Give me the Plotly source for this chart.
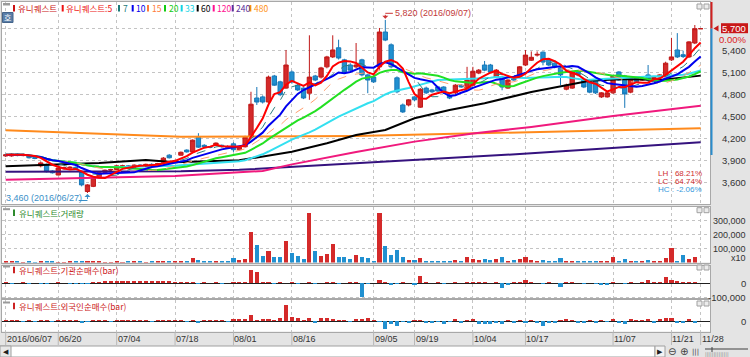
import pandas as pd
import plotly.graph_objects as go

W, H = 750, 357

# ---------------- data ----------------
HOLIDAYS = ["2016-08-15", "2016-09-14", "2016-09-15", "2016-09-16", "2016-10-03"]
dates = [d for d in pd.bdate_range("2016-06-07", "2016-11-28")
         if d.strftime("%Y-%m-%d") not in HOLIDAYS]
day = list(range(len(dates)))

open_p = [3965, 3965, 3990, 3970, 3965, 3945, 3830, 3850, 3760, 3705,
          3790, 3800, 3810, 3740, 3480, 3550, 3670, 3740, 3770, 3780,
          3820, 3830, 3815, 3840, 3835, 3850, 3845, 3880, 3975, 3890,
          3975, 4045, 4020, 4220, 4110, 4090, 4115, 4110, 4090, 4130,
          4050, 4090, 4225, 4755, 4770, 4700, 5055, 4975, 4890, 5110,
          4930, 4890, 4820, 5055, 5040, 5180, 5315, 5440, 5275, 5205,
          5180, 5275, 5070, 5040, 5180, 5655, 5480, 5030, 4660, 4660,
          4770, 4630, 4890, 4865, 4905, 4905, 4795, 4825, 4930, 4890,
          4930, 5095, 5205, 5205, 5040, 5040, 4890, 5040, 5040, 5205,
          5270, 5340, 5380, 5275, 5230, 5165, 4875, 4890, 5110, 5000,
          4975, 5000, 4770, 4770, 4825, 5110, 5055, 4835, 5030, 5000,
          5070, 5020, 5040, 5055, 5275, 5410, 5345, 5315, 5505, 5700]
high_p = [3990, 4000, 4000, 3995, 3975, 3955, 3890, 3860, 3770, 3810,
          3820, 3825, 3820, 3760, 3580, 3680, 3745, 3780, 3790, 3840,
          3845, 3840, 3850, 3850, 3860, 3865, 3870, 3950, 3990, 3915,
          4025, 4055, 4190, 4275, 4125, 4100, 4150, 4120, 4110, 4150,
          4095, 4240, 4840, 4905, 4790, 5060, 5070, 4990, 5410, 5130,
          4950, 4900, 5610, 5070, 5180, 5330, 5610, 5550, 5290, 5230,
          5505, 5290, 5080, 5060, 5710, 5820, 5500, 5050, 4680, 4740,
          4780, 4890, 4910, 4880, 4920, 4915, 4810, 4945, 4945, 5180,
          5180, 5150, 5260, 5220, 5150, 5060, 5010, 5050, 5190, 5410,
          5390, 5390, 5390, 5280, 5240, 5180, 4950, 5120, 5120, 5020,
          4990, 5010, 4835, 4840, 5070, 5120, 5070, 5030, 5040, 5040,
          5205, 5050, 5080, 5250, 5575, 5640, 5400, 5530, 5750, 5700]
low_p = [3950, 3955, 3960, 3960, 3930, 3920, 3810, 3740, 3725, 3700,
         3780, 3790, 3775, 3550, 3460, 3540, 3660, 3730, 3760, 3770,
         3810, 3805, 3810, 3825, 3830, 3835, 3840, 3870, 3930, 3880,
         3970, 4010, 4010, 4075, 4080, 4070, 4100, 4080, 4075, 4020,
         4040, 4080, 4215, 4660, 4680, 4690, 4920, 4780, 4880, 4950,
         4850, 4740, 4730, 4985, 5020, 5160, 5300, 5280, 5090, 5120,
         5160, 5050, 4820, 4960, 5140, 5530, 5160, 4820, 4550, 4640,
         4710, 4620, 4810, 4825, 4840, 4810, 4740, 4810, 4895, 4880,
         4920, 5080, 5120, 5100, 5030, 4860, 4880, 4990, 5030, 5190,
         5260, 5320, 5200, 5190, 5160, 4930, 4860, 4880, 5050, 4890,
         4820, 4810, 4755, 4760, 4810, 4990, 4620, 4820, 4960, 4990,
         4990, 5010, 5030, 5040, 5260, 5300, 5300, 5300, 5490, 5700]
close_p = [3980, 3990, 3970, 3985, 3940, 3930, 3870, 3750, 3735, 3800,
           3805, 3810, 3790, 3570, 3570, 3670, 3735, 3770, 3780, 3830,
           3830, 3815, 3840, 3835, 3850, 3845, 3860, 3935, 3940, 3900,
           4015, 4020, 4180, 4085, 4090, 4085, 4140, 4090, 4085, 4050,
           4085, 4220, 4670, 4700, 4700, 5040, 4930, 4800, 5205, 4975,
           4865, 4755, 5040, 5000, 5165, 5315, 5410, 5300, 5110, 5135,
           5205, 5070, 5000, 4975, 5655, 5545, 5180, 4840, 4565, 4730,
           4730, 4875, 4825, 4840, 4850, 4825, 4755, 4930, 4905, 5000,
           5120, 5135, 5135, 5110, 5135, 4905, 5000, 5000, 5180, 5340,
           5310, 5350, 5245, 5205, 5180, 5070, 4930, 5110, 5070, 4905,
           4835, 4825, 4825, 4825, 5055, 5000, 4810, 5015, 4975, 5020,
           5000, 5035, 5070, 5230, 5315, 5315, 5320, 5520, 5700, 5700]
volume = [6000, 5000, 4000, 3000, 4000, 3500, 5000, 6000, 4000, 3000,
          2500, 5000, 5000, 9000, 12000, 8000, 5000, 3000, 3000, 4000,
          3000, 5000, 6000, 4000, 3000, 4000, 8000, 9000, 6000, 5000,
          13000, 6000, 33000, 21000, 10000, 8000, 10000, 7000, 8000, 33000,
          15000, 25000, 219000, 124000, 47000, 81000, 36000, 38000, 154000, 69000,
          44000, 28000, 354000, 83000, 44000, 58000, 131000, 40000, 40000, 22000,
          52000, 40000, 33000, 5000, 357000, 119000, 52000, 86000, 40000, 17000,
          17000, 29000, 12000, 10000, 14000, 10000, 12000, 17000, 12000, 36000,
          22000, 17000, 22000, 17000, 22000, 40000, 13000, 17000, 24000, 40000,
          17000, 8000, 17000, 12000, 10000, 29000, 12000, 10000, 8000, 10000,
          9000, 12000, 8000, 8000, 36000, 8000, 26000, 12000, 8000, 8000,
          20000, 6000, 8000, 33000, 102000, 10000, 52000, 26000, 40000, 0]
inst_net = [1000, -1000, 0, 1000, -1000, 0, -2000, -1000, 0, 1000,
            0, -1000, -2000, -3000, -1000, 2000, 1000, 9000, 8000, 10000,
            8000, 9000, 10000, 9000, 8000, 9000, 10000, 8000, 9000, 7000,
            5000, 2000, 3000, -2000, 1000, 0, 1000, -1000, 0, 2000,
            1000, 2000, 95000, 78000, 5000, 2000, -1000, 1000, 0, 1000,
            -2000, 0, 1000, -1000, 0, 2000, 1000, -1000, 0, 1000,
            2000, -100000, -3000, 0, 23000, 2000, -10000, -2000, 1000, 0,
            -14000, 47000, 2000, 0, 1000, -1000, 0, 1000, 0, 2000,
            4000, 1000, 5000, 0, 1000, -36000, -10000, 1000, 5000, 23000,
            3000, 0, -2000, 1000, 0, -29000, 1000, 2000, 0, -1000,
            0, -2000, -8000, -8000, 1000, 0, -2000, 1000, 0, 2000,
            23000, 1000, 2000, 45000, 25000, 16000, 6000, 2000, 1000, 0]
foreign_net = [5000, 6000, 3000, -3000, 4000, -4000, 3000, 5000, -3000, 4000,
               3000, 5000, 4000, -12000, -4000, 6000, 5000, 3000, -3000, 4000,
               5000, 3000, 4000, 2000, 3000, -3000, 4000, 5000, 3000, 4000,
               5000, -6000, 4000, -12000, 6000, 3000, 4000, 3000, -3000, 8000,
               17000, 17000, 40000, 3000, 8000, 17000, 5000, 25000, 112000, 29000,
               25000, 3000, 20000, -12000, 25000, 20000, 12000, 3000, 5000, -3000,
               17000, 12000, 20000, 3000, -5000, -60000, -24000, -36000, -3000, -8000,
               3000, 5000, -12000, -12000, -5000, -24000, -3000, 17000, -12000, 3000,
               8000, -24000, -24000, -20000, -12000, -20000, 3000, -12000, 3000, -17000,
               5000, -8000, -36000, -8000, -8000, 3000, 12000, 5000, -12000, -8000,
               5000, -12000, 3000, -5000, 12000, -12000, -24000, 12000, 3000, 5000,
               17000, -8000, 17000, 25000, 25000, -12000, -17000, 12000, -8000, 0]

# long moving averages (day index -> value)
ma60_day = [0, 16, 24, 29, 40, 49, 55, 60, 65, 70, 76, 82, 90, 95, 100, 106, 112, 119]
ma60_val = [3825, 3868, 3909, 3880, 3905, 4022, 4137, 4250, 4318, 4478, 4591, 4683,
            4837, 4918, 4991, 5014, 5000, 5060]
ma120_day = [0, 29, 44, 49, 60, 70, 80, 90, 104, 119]
ma120_val = [3640, 3690, 3760, 3850, 4020, 4160, 4270, 4360, 4510, 4650]
ma240_day = [0, 30, 40, 60, 90, 119]
ma240_val = [3750, 3755, 3775, 3865, 4000, 4150]
ma480_day = [0, 19, 30, 60, 90, 119]
ma480_val = [4315, 4255, 4227, 4236, 4290, 4342]

price_ticks = [3600, 3900, 4200, 4500, 4800, 5100, 5400]
price_grid = [3600, 3900, 4200, 4500, 4800, 5100, 5400, 5700]
vol_ticks = [100000, 200000, 300000]
date_tick_days = ["2016-06-07", "2016-06-20", "2016-07-04", "2016-07-18", "2016-08-01",
                  "2016-08-16", "2016-09-05", "2016-09-19", "2016-10-04", "2016-10-17",
                  "2016-11-07", "2016-11-21", "2016-11-28"]
date_tick_text = ["2016/06/07", "06/20", "07/04", "07/18", "08/01", "08/16", "09/05",
                  "09/19", "10/04", "10/17", "11/07", "11/21", "11/28"]

short_ma = [(5, "#ff0000", 2, "solid"), (7, "#2a7f7f", 1, "dash"), (10, "#0000ee", 2, "solid"),
            (15, "#ff9f70", 1, "dash"), (20, "#22e022", 2, "solid"), (33, "#33e0f0", 2, "solid")]

# ---------------- layout helpers ----------------
def PX(px):
    return px / W


def PY(py):
    return 1 - py / H


K = 22 / 300.0  # px per won on the price panel


def price_at(py):
    return 5400 - (py - 50.7) / K


def idx_at(px):
    return (px - 5.7) / 5.84


RED = "#d42a2a"
RED_L = "#c01818"
BLUE = "#2190d0"
BLUE_L = "#1878b8"
FONT_NUM = "Liberation Sans"
FONT_KR = "Noto Sans CJK KR"

date_idx = [dates.index(pd.Timestamp(d)) for d in date_tick_days]
up = [c >= o for o, c in zip(open_p, close_p)]

fig = go.Figure()

# candles
fig.add_trace(go.Candlestick(
    x=day, open=open_p, high=high_p, low=low_p, close=close_p,
    increasing=dict(line=dict(color=RED_L, width=1), fillcolor=RED),
    decreasing=dict(line=dict(color=BLUE_L, width=1), fillcolor=BLUE),
    whiskerwidth=0, xaxis="x", yaxis="y", showlegend=False, hoverinfo="skip"))

# long MAs
for dd, vv, col in [(ma480_day, ma480_val, "#ff8a1c"), (ma240_day, ma240_val, "#35127e"),
                    (ma120_day, ma120_val, "#f0197d"), (ma60_day, ma60_val, "#000000")]:
    fig.add_trace(go.Scatter(x=dd, y=vv, mode="lines", line=dict(color=col, width=2),
                             xaxis="x", yaxis="y", showlegend=False, hoverinfo="skip"))

# short MAs from closes
cs = pd.Series(close_p)
for n, col, wdt, dash in [short_ma[5], short_ma[4], short_ma[3], short_ma[1], short_ma[2], short_ma[0]]:
    fig.add_trace(go.Scatter(x=day, y=cs.rolling(n, min_periods=1).mean(), mode="lines",
                             line=dict(color=col, width=wdt, dash=dash),
                             xaxis="x", yaxis="y", showlegend=False, hoverinfo="skip"))

# volume
fig.add_trace(go.Bar(x=day, y=volume, width=0.7,
                     marker=dict(color=[RED if u else BLUE for u in up], line=dict(width=0)),
                     xaxis="x2", yaxis="y2", showlegend=False, hoverinfo="skip"))
# institution
fig.add_trace(go.Bar(x=day, y=inst_net, width=0.7,
                     marker=dict(color=[RED if v >= 0 else BLUE for v in inst_net], line=dict(width=0)),
                     xaxis="x3", yaxis="y3", showlegend=False, hoverinfo="skip"))
# foreigner
fig.add_trace(go.Bar(x=day, y=foreign_net, width=0.7,
                     marker=dict(color=[RED if v >= 0 else BLUE for v in foreign_net], line=dict(width=0)),
                     xaxis="x4", yaxis="y4", showlegend=False, hoverinfo="skip"))

xr = [idx_at(2), idx_at(710)]
xdom = [PX(2), PX(710)]
FRAME = "#a8a8a8"
GRID = "#c4c4c4"


def xax(anchor):
    return dict(domain=xdom, range=xr, anchor=anchor, tickmode="array", tickvals=date_idx,
                showticklabels=False, ticks="", showgrid=True, gridcolor=GRID, griddash="dot",
                gridwidth=1, zeroline=False, showline=True, mirror=True, linecolor=FRAME,
                linewidth=1, fixedrange=True)


layout = dict(
    width=W, height=H, margin=dict(l=0, r=0, t=0, b=0, pad=0), autosize=False,
    paper_bgcolor="#e4e4e4", plot_bgcolor="#ffffff",
    bargap=0, showlegend=False, boxgap=0.22, boxgroupgap=0.05,
    xaxis=dict(xax("y"), rangeslider=dict(visible=False)),
    xaxis2=dict(xax("y2"), matches="x"),
    xaxis3=dict(xax("y3"), matches="x"),
    xaxis4=dict(xax("y4"), matches="x"),
    yaxis=dict(domain=[PY(204), PY(2)], range=[price_at(204), price_at(2)], anchor="x",
               tickmode="array", tickvals=price_grid, showticklabels=False, ticks="",
               showgrid=True, gridcolor=GRID, griddash="dot", zeroline=False,
               showline=True, mirror=True, linecolor=FRAME),
    yaxis2=dict(domain=[PY(262.5), PY(207)], range=[0, (262.5 - 207) / 14 * 100000], anchor="x2",
                tickmode="array", tickvals=vol_ticks, showticklabels=False, ticks="",
                showgrid=True, gridcolor=GRID, griddash="dot", zeroline=False,
                showline=True, mirror=True, linecolor=FRAME),
    yaxis3=dict(domain=[PY(298), PY(266)], range=[-(298 - 283) / 14 * 100000, (283 - 266) / 14 * 100000],
                anchor="x3", tickmode="array", tickvals=[-100000], showticklabels=False, ticks="",
                showgrid=True, gridcolor=GRID, griddash="dot", zeroline=True, zerolinecolor="#202020",
                zerolinewidth=1, showline=True, mirror=True, linecolor=FRAME),
    yaxis4=dict(domain=[PY(331.5), PY(300)], range=[-(331.5 - 321) / 14 * 100000, (321 - 300) / 14 * 100000],
                anchor="x4", tickmode="array", tickvals=[0], showticklabels=False, ticks="",
                showgrid=False, zeroline=True, zerolinecolor="#202020",
                zerolinewidth=1, showline=True, mirror=True, linecolor=FRAME),
)
fig.update_layout(**layout)

ann = []
shp = []


def text(x, y, t, color="#333333", size=9, family=FONT_NUM, xanchor="left", xref="paper", yref="paper",
         yanchor="middle", bg=None):
    d = dict(x=x, y=y, text=t, xref=xref, yref=yref, xanchor=xanchor, yanchor=yanchor,
             showarrow=False, font=dict(color=color, size=size, family=family), borderpad=0)
    if bg:
        d["bgcolor"] = bg
    ann.append(d)


def rect(x0, y0, x1, y1, fill, line=None):
    shp.append(dict(type="rect", xref="paper", yref="paper", x0=PX(x0), x1=PX(x1), y0=PY(y0), y1=PY(y1),
                    fillcolor=fill, line=dict(width=1 if line else 0, color=line or fill), layer="above"))


def line(x0, y0, x1, y1, color, width=1, xref="paper", yref="paper"):
    shp.append(dict(type="line", xref=xref, yref=yref, x0=x0, x1=x1, y0=y0, y1=y1,
                    line=dict(color=color, width=width), layer="above"))


# price axis labels
for p in price_ticks:
    text(PX(747), p, f"{p:,}", xanchor="right", yref="y", size=9.5)
# current price box
rect(721, 23.2, 748, 33.2, "#c81818")
text(PX(747), PY(28.3), "5,700", color="#ffffff", xanchor="right", size=9.5)
text(PX(747), PY(39), "0.00%", color="#dd2222", xanchor="right", size=9.5)
shp.append(dict(type="path", xref="paper", yref="paper", layer="above",
                path=f"M {PX(718.5)},{PY(25.3)} L {PX(713.5)},{PY(28.4)} L {PX(718.5)},{PY(31.5)} Z",
                fillcolor="#c81818", line=dict(width=0)))
# right range bar
rect(710.5, 2, 712.5, 28.6, "#d02020")
rect(710.5, 28.6, 712.5, 155, "#2a8ccc")

# volume / flow labels
for v in vol_ticks:
    text(PX(747), v, f"{v:,}", xanchor="right", yref="y2", size=9)
text(PX(747), PY(258.3), "x10", xanchor="right", size=9)
text(PX(747), 0, "0", xanchor="right", yref="y3", size=9.5)
text(PX(747), -100000, "-100,000", xanchor="right", yref="y3", size=9.5)
text(PX(747), 0, "0", xanchor="right", yref="y4", size=9.5)

# date labels
for i, t in zip(date_idx, date_tick_text):
    text(i, PY(338.6), t, xref="x4", size=9)
    shp.append(dict(type="line", xref="x4", yref="paper", x0=i, x1=i, y0=PY(332), y1=PY(345),
                    line=dict(color="#b8b8b8", width=1), layer="above"))

# legend row (main panel)
legend_items = [("유니퀘스트", "#cc1111", 14), ("유니퀘스트:5", "#ee1111", 62.7), ("7", "#1a7a7a", 119),
                ("10", "#0000ee", 132.7), ("15", "#ff7a3a", 148), ("20", "#11cc11", 165),
                ("33", "#11d4e4", 181.7), ("60", "#000000", 197.7), ("120", "#ff1090", 213.7),
                ("240", "#5a2d9a", 232.7), ("480", "#ff9010", 250.3)]
for t, c, xp in legend_items:
    rect(xp - 1, 5, xp + 1, 11.5, c)
    text(PX(xp + 2.5), PY(8.3), t, color=c, size=8.5, family=FONT_KR)

# panel headers
for ytop, t, c in [(212.7, "유니퀘스트:거래량", "#2e8b2e"), (270, "유니퀘스트:기관순매수(bar)", "#cc2222"),
                   (306, "유니퀘스트:외국인순매수(bar)", "#cc2222")]:
    rect(13, ytop - 3.2, 15, ytop + 3.2, c)
    text(PX(17.5), PY(ytop), t, color=c, size=8.5, family=FONT_KR)
    rect(3, ytop - 4.5, 10, ytop - 2.5, "#9a9a9a")
    rect(697, ytop - 5, 702, ytop, "#ececec", "#a0a0a0")
    rect(704, ytop - 5, 709, ytop, "#ececec", "#a0a0a0")
rect(3, 3, 10, 5.5, "#9a9a9a")
rect(697, 4, 702, 9, "#ececec", "#a0a0a0")
rect(704, 4, 709, 9, "#ececec", "#a0a0a0")
rect(2.5, 12.5, 13, 22.5, "#5a7ea8", "#44648a")
text(PX(7.8), PY(17.6), "호", color="#ffffff", size=8, family=FONT_KR, xanchor="center")

# high / low markers
hi_i = high_p.index(max(high_p))
lo_i = low_p.index(min(low_p))
ann.append(dict(x=hi_i, y=max(high_p) + 15, ax=hi_i, ay=price_at(13.3), xref="x", yref="y",
                axref="x", ayref="y", text="", showarrow=True, arrowhead=1, arrowsize=1,
                arrowwidth=1, arrowcolor="#cc3333"))
line(hi_i, price_at(13.3), hi_i + 1.3, price_at(13.3), "#cc3333", xref="x", yref="y")
text(hi_i + 1.45, price_at(13.3), f"{max(high_p):,} ({dates[hi_i]:%Y/%m/%d})", color="#c23a3a",
     xref="x", yref="y", size=9)
ann.append(dict(x=lo_i, y=min(low_p) - 15, ax=lo_i, ay=price_at(200.5), xref="x", yref="y",
                axref="x", ayref="y", text="", showarrow=True, arrowhead=1, arrowsize=1,
                arrowwidth=1, arrowcolor="#3a8fc8"))
line(lo_i - 1.5, price_at(200.5), lo_i, price_at(200.5), "#3a8fc8", xref="x", yref="y")
text(PX(5), PY(198.3), f"{min(low_p):,} ({dates[lo_i]:%Y/%m/%d})", color="#3a8fc8", size=9)

# LH / LC / HC
last = close_p[-1]
lh = (max(high_p) / min(low_p) - 1) * 100
lc = (last / min(low_p) - 1) * 100
hc = (last / max(high_p) - 1) * 100
text(PX(703), PY(173.3), f"LH : {lh:.2f}%", color="#d03030", xanchor="right", size=8)
text(PX(703), PY(181.2), f"LC : {lc:.2f}%", color="#d03030", xanchor="right", size=8)
text(PX(703), PY(189.1), f"HC : {hc:.2f}%", color="#3399dd", xanchor="right", size=8)

# bottom scrollbar / toolbar
rect(0, 346, 655, 357, "#ffffff", "#a0a0a0")
rect(0, 346, 11, 357, "#e8e8e8", "#a0a0a0")
text(PX(5.5), PY(351.5), "◀", color="#202020", size=7, family="DejaVu Sans", xanchor="center")
rect(655, 346, 665, 357, "#f4f4f4", "#a0a0a0")
text(PX(660), PY(351.5), "▶", color="#202020", size=7, family="DejaVu Sans", xanchor="center")
text(PX(667), PY(351.5), "⊖", color="#404040", size=10, family="DejaVu Sans")
text(PX(679), PY(351.5), "⊕", color="#404040", size=10, family="DejaVu Sans")
text(PX(691), PY(351.5), "|||", color="#404040", size=7, family="DejaVu Sans")
line(PX(705), PY(349), PX(748), PY(349), "#404040")
line(PX(712), PY(347), PX(712), PY(352), "#404040")
text(PX(704), PY(354.5), "||||||||||||||", color="#808080", size=5, family="DejaVu Sans")

fig.update_layout(annotations=ann, shapes=shp)
fig.write_html("out.html", config={"displayModeBar": False},
               post_script="document.body.style.margin='0';document.body.style.overflow='hidden';")
